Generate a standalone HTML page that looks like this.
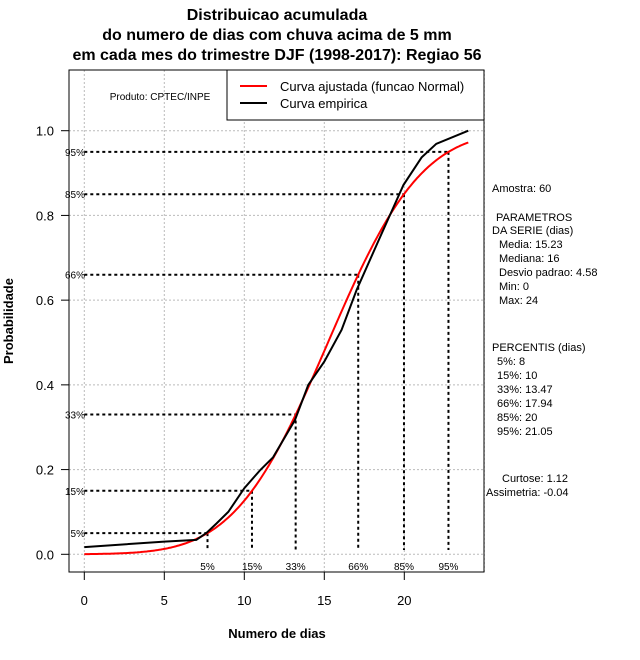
<!DOCTYPE html>
<html><head><meta charset="utf-8"><style>
body{margin:0;background:#fff;}
svg{display:block;font-family:"Liberation Sans",sans-serif;}
</style></head><body>
<svg id="chart" width="640" height="660" xmlns="http://www.w3.org/2000/svg">
<g font-weight="bold" font-size="16" text-anchor="middle">
<text x="277" y="20">Distribuicao acumulada</text>
<text x="277" y="40">do numero de dias com chuva acima de 5 mm</text>
<text x="277" y="60">em cada mes do trimestre DJF (1998-2017): Regiao 56</text>
</g>
<g id="grid"></g>
<g id="axes"></g>
<g id="pct"></g>
<g id="series"></g>
<rect x="69" y="70" width="415" height="502" fill="none" stroke="#000"/>
<text x="160" y="100" font-size="10" text-anchor="middle">Produto: CPTEC/INPE</text>
<g>
<rect x="227" y="70" width="257" height="50" fill="#fff" stroke="#000"/>
<line x1="240" y1="86" x2="267" y2="86" stroke="#f00" stroke-width="2"/>
<text x="280" y="91" font-size="13">Curva ajustada (funcao Normal)</text>
<line x1="240" y1="103" x2="267" y2="103" stroke="#000" stroke-width="2"/>
<text x="280" y="108" font-size="13">Curva empirica</text>
</g>
<text x="277" y="638" font-size="13" font-weight="bold" text-anchor="middle">Numero de dias</text>
<text transform="translate(13,321) rotate(-90)" font-size="13" font-weight="bold" text-anchor="middle">Probabilidade</text>
<g font-size="11">
<text x="492" y="192">Amostra: 60</text>
<text x="496" y="221">PARAMETROS</text>
<text x="492" y="234">DA SERIE (dias)</text>
<text x="499" y="248">Media: 15.23</text>
<text x="499" y="262">Mediana: 16</text>
<text x="499" y="276">Desvio padrao: 4.58</text>
<text x="499" y="290">Min: 0</text>
<text x="499" y="304">Max: 24</text>
<text x="492" y="351">PERCENTIS (dias)</text>
<text x="497" y="365">5%: 8</text>
<text x="497" y="379">15%: 10</text>
<text x="497" y="393">33%: 13.47</text>
<text x="497" y="407">66%: 17.94</text>
<text x="497" y="421">85%: 20</text>
<text x="497" y="435">95%: 21.05</text>
<text x="502" y="482">Curtose: 1.12</text>
<text x="486" y="496">Assimetria: -0.04</text>
</g>
</svg>
<script>
const xTicks=[0,5,10,15,20];
const yTicks=[0,0.2,0.4,0.6,0.8,1.0];
const yTickLabels=["0.0","0.2","0.4","0.6","0.8","1.0"];
const empX=[0,5,7,7.65,8.27,9,10,11,11.8,13.17,14,15,16.08,17.02,18.5,19.95,21.08,22,24];
const empY=[0.017,0.03,0.034,0.051,0.073,0.10,0.156,0.199,0.229,0.317,0.40,0.455,0.53,0.624,0.75,0.872,0.937,0.969,1.0];
const normMean=15.23, normSd=4.58;
const pctProb=[0.05,0.15,0.33,0.66,0.85,0.95];
const pctX=[7.7,10.48,13.21,17.12,19.98,22.76];
const pctLabels=["5%","15%","33%","66%","85%","95%"];
const NS="http://www.w3.org/2000/svg";
const sx=v=>84.3+v*16;
const sy=v=>554.3-v*423.6;
function mk(tag,attrs,parent){const e=document.createElementNS(NS,tag);for(const k in attrs)e.setAttribute(k,attrs[k]);parent.appendChild(e);return e;}
const grid=document.getElementById('grid'),axes=document.getElementById('axes'),pct=document.getElementById('pct'),series=document.getElementById('series');
[0,5,10,15,20,25].forEach(v=>{const l=mk('line',{x1:sx(v),x2:sx(v),y1:70,y2:572,stroke:'#bbb','stroke-dasharray':'2,2'},grid);

});
yTicks.forEach(v=>{const l=mk('line',{x1:69,x2:484,y1:sy(v),y2:sy(v),stroke:'#bbb','stroke-dasharray':'2,2'},grid);

});
xTicks.forEach(v=>{const t=mk('line',{x1:sx(v),x2:sx(v),y1:572,y2:580,stroke:'#000'},axes);


const tx=mk('text',{x:sx(v),y:605,'font-size':13,'text-anchor':'middle'},axes);tx.textContent=v;

});
yTicks.forEach((v,i)=>{const t=mk('line',{x1:61,x2:69,y1:sy(v),y2:sy(v),stroke:'#000'},axes);


const tx=mk('text',{x:54,y:sy(v)+5,'font-size':13,'text-anchor':'end'},axes);tx.textContent=yTickLabels[i];

});
pctProb.forEach((p,i)=>{
const h=mk('line',{x1:sx(0),x2:sx(pctX[i]),y1:sy(p),y2:sy(p),stroke:'#000','stroke-width':2,'stroke-dasharray':'3,3'},pct);


const v=mk('line',{x1:sx(pctX[i]),x2:sx(pctX[i]),y1:sy(p),y2:550,stroke:'#000','stroke-width':2,'stroke-dasharray':'3,3'},pct);


const a=mk('text',{x:85,y:sy(p)+4,'font-size':10,'text-anchor':'end'},pct);a.textContent=pctLabels[i];


const b=mk('text',{x:sx(pctX[i]),y:570,'font-size':10,'text-anchor':'middle'},pct);b.textContent=pctLabels[i];

});
function erf(x){const s=Math.sign(x);x=Math.abs(x);const t=1/(1+0.3275911*x);const y=1-(((((1.061405429*t-1.453152027)*t)+1.421413741)*t-0.284496736)*t+0.254829592)*t*Math.exp(-x*x);return s*y;}
const cdf=x=>0.5*(1+erf((x-normMean)/(normSd*Math.SQRT2)));
let d='';for(let i=0;i<=240;i++){const x=i/10;d+=(i?'L':'M')+sx(x).toFixed(1)+','+sy(cdf(x)).toFixed(1);}
const red=mk('path',{d:d,fill:'none',stroke:'#f00','stroke-width':2},series);


const ed=empX.map((x,i)=>(i?'L':'M')+sx(x).toFixed(1)+','+sy(empY[i]).toFixed(1)).join('');
const blk=mk('path',{d:ed,fill:'none',stroke:'#000','stroke-width':2},series);


</script>
</body></html>
